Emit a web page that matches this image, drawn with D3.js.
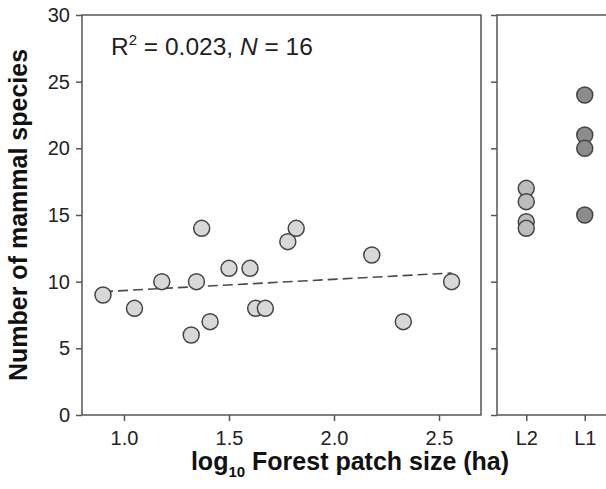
<!DOCTYPE html>
<html>
<head>
<meta charset="utf-8">
<script src="https://cdn.jsdelivr.net/npm/d3@7"></script>
<style>
  body { margin: 0; background: #fff; }
  svg { display: block; font-family: "Liberation Sans", Arial, sans-serif; }
</style>
</head>
<body>
<div id="chart"></div>
<script>
// values
const patchSizes = [0.90, 1.05, 1.18, 1.32, 1.345, 1.37, 1.41, 1.50, 1.60, 1.627, 1.673, 1.78, 1.82, 2.18, 2.33, 2.56];
const species = [9, 8, 10, 6, 10, 14, 7, 11, 11, 8, 8, 13, 14, 12, 7, 10];
const landscapes = ["L2", "L1"];
const l2Values = [17, 16, 14.5, 14];
const l1Values = [24, 21, 20, 15];
const fitX = [0.9, 2.56];
const fitY = [9.25, 10.65];
const xTicks = [1.0, 1.5, 2.0, 2.5];
const yTicks = [0, 5, 10, 15, 20, 25, 30];

const width = 606, height = 489;
const lineCol = "#555";

const svg = d3.select("#chart").append("svg")
    .attr("width", width)
    .attr("height", height);

const y = d3.scaleLinear().domain([0, 30]).range([415, 15]);
const x = d3.scaleLinear().domain([0.8, 2.7]).range([82, 481]);
const xL = d3.scalePoint().domain(landscapes).range([497, 614]).padding(0.5);

// left panel axes
const yAxis = svg.append("g")
    .attr("transform", `translate(${x.range()[0]},0)`)
    .call(d3.axisLeft(y).tickValues(yTicks).tickSize(6).tickPadding(6).tickFormat(d3.format("d")));

const xAxis = svg.append("g")
    .attr("transform", `translate(0,${y(0)})`)
    .call(d3.axisBottom(x).tickValues(xTicks).tickSize(6).tickPadding(10).tickFormat(d3.format(".1f")));

// right panel axes
const yAxis2 = svg.append("g")
    .attr("transform", `translate(${xL.range()[0]},0)`)
    .call(d3.axisLeft(y).tickValues(yTicks).tickSize(6).tickFormat(""));

const xAxis2 = svg.append("g")
    .attr("transform", `translate(0,${y(0)})`)
    .call(d3.axisBottom(xL).tickSize(6).tickPadding(10));

[yAxis, xAxis, yAxis2, xAxis2].forEach(g => {
    g.select(".domain").remove();
    g.selectAll("line").attr("stroke", lineCol).attr("stroke-width", 1.5);
    g.selectAll("text").attr("fill", "#222").style("font-size", "20px");
});

// frames
svg.append("rect")
    .attr("x", x.range()[0])
    .attr("y", y(30))
    .attr("width", x.range()[1] - x.range()[0])
    .attr("height", y(0) - y(30))
    .attr("fill", "none")
    .attr("stroke", lineCol)
    .attr("stroke-width", 1.5);

svg.append("path")
    .attr("d", `M${width + 5},${y(30)}H${xL.range()[0]}V${y(0)}H${width + 5}`)
    .attr("fill", "none")
    .attr("stroke", lineCol)
    .attr("stroke-width", 1.5);

// regression line
svg.append("line")
    .attr("x1", x(fitX[0])).attr("y1", y(fitY[0]))
    .attr("x2", x(fitX[1])).attr("y2", y(fitY[1]))
    .attr("stroke", "#4a4a4a")
    .attr("stroke-width", 1.6)
    .attr("stroke-dasharray", "10,5");

// patch points
svg.append("g").selectAll("circle")
    .data(patchSizes.map((d, i) => [d, species[i]]))
    .join("circle")
    .attr("cx", d => x(d[0]))
    .attr("cy", d => y(d[1]))
    .attr("r", 8)
    .attr("fill", "#d8d8d8")
    .attr("stroke", "#444")
    .attr("stroke-width", 1.5);

// landscape points
const landData = [
    ...l2Values.map(v => ({ k: "L2", v, fill: "#bcbcbc" })),
    ...l1Values.map(v => ({ k: "L1", v, fill: "#8c8c8c" }))
];
svg.append("g").selectAll("circle")
    .data(landData)
    .join("circle")
    .attr("cx", d => xL(d.k))
    .attr("cy", d => y(d.v))
    .attr("r", 8)
    .attr("fill", d => d.fill)
    .attr("stroke", "#444")
    .attr("stroke-width", 1.5);

// stats text
const stat = svg.append("text")
    .attr("x", 111)
    .attr("y", 55)
    .attr("fill", "#222")
    .style("font-size", "24.5px");
stat.append("tspan").text("R");
stat.append("tspan").attr("dy", -10).style("font-size", "15px").text("2");
stat.append("tspan").attr("dy", 10).text(" = 0.023, ");
stat.append("tspan").style("font-style", "italic").text("N");
stat.append("tspan").text(" = 16");

// axis titles
svg.append("text")
    .attr("transform", `translate(27,${(y(0) + y(30)) / 2}) rotate(-90)`)
    .attr("text-anchor", "middle")
    .attr("fill", "#111")
    .style("font-size", "25px")
    .style("font-weight", "bold")
    .text("Number of mammal species");

const xt = svg.append("text")
    .attr("x", 350)
    .attr("y", 470)
    .attr("text-anchor", "middle")
    .attr("fill", "#111")
    .style("font-size", "25px")
    .style("font-weight", "bold");
xt.append("tspan").text("log");
xt.append("tspan").attr("dy", 7).style("font-size", "15px").text("10");
xt.append("tspan").attr("dy", -7).text(" Forest patch size (ha)");
</script>
</body>
</html>
